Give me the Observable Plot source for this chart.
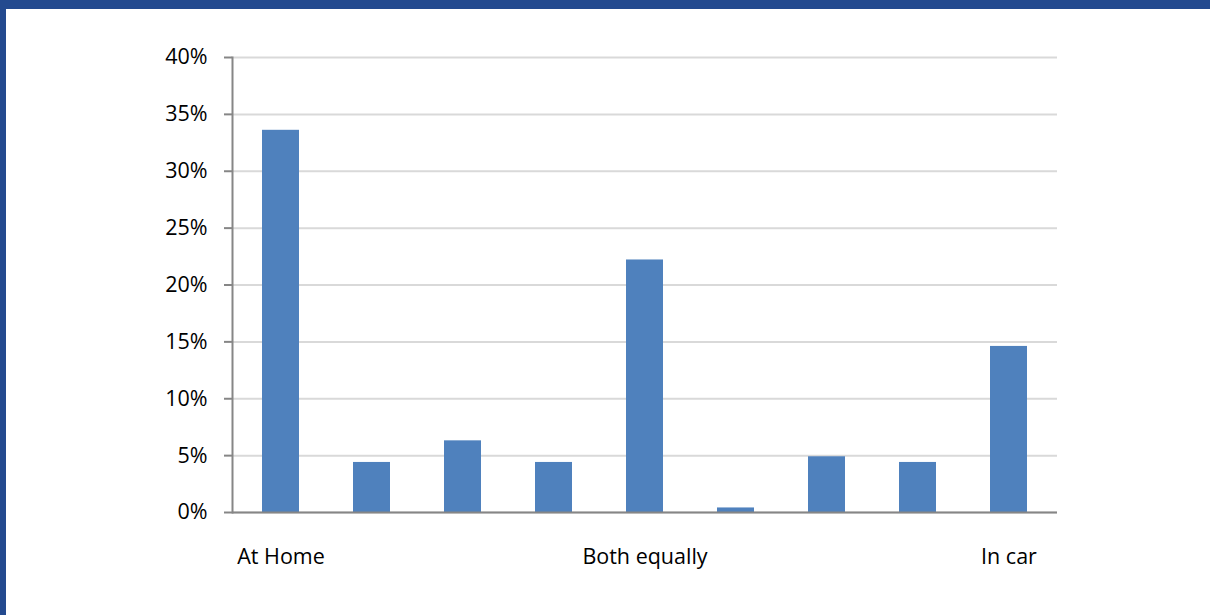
<!DOCTYPE html>
<html>
<head>
<meta charset="utf-8">
<script src="https://cdn.jsdelivr.net/npm/d3@7"></script>
<script src="https://cdn.jsdelivr.net/npm/@observablehq/plot@0.6"></script>
<style>
  html, body { margin: 0; padding: 0; background: #fff; }
  #frame {
    box-sizing: border-box;
    width: 1210px; height: 615px;
    border-top: 9px solid #234A8F;
    border-left: 6px solid #234A8F;
    overflow: hidden;
  }
</style>
</head>
<body>
<div id="frame"></div>
<script>
// Data
const positions = [1, 2, 3, 4, 5, 6, 7, 8, 9];
const values = [33.6, 4.4, 6.3, 4.4, 22.2, 0.4, 4.9, 4.4, 14.6];
const xLabels = ["At Home", "", "", "", "Both equally", "", "", "", "In car"];
const yTicks = [0, 5, 10, 15, 20, 25, 30, 35, 40];

const data = positions.map((p, i) => ({pos: p, value: values[i] / 100}));

const chart = Plot.plot({
  width: 1204,
  height: 606,
  marginLeft: 226,
  marginRight: 153,
  marginTop: 48,
  marginBottom: 103,
  style: {fontFamily: "'Open Sans', sans-serif", fontSize: "21.5px", color: "#000", background: "#fff"},
  x: {domain: positions, paddingInner: 0.59, paddingOuter: 0.295, align: 0.5},
  y: {domain: [0, 0.40]},
  marks: [
    Plot.gridY(yTicks.map(t => t / 100), {stroke: "#d9d9d9", strokeOpacity: 1, strokeWidth: 2}),
    Plot.barY(data, {x: "pos", y: "value", fill: "#4F81BD"}),
    Plot.ruleY([0], {stroke: "#868686", strokeWidth: 2}),
    Plot.frame({anchor: "left", stroke: "#868686", strokeWidth: 2}),
    Plot.axisY(yTicks.map(t => t / 100), {
      tickSize: 8, tickPadding: 17, stroke: "#868686", strokeWidth: 2, strokeOpacity: 1,
      tickFormat: d => Math.round(d * 100) + "%", label: null, fill: "#000"
    }),
    Plot.axisX(positions, {
      tickSize: 0, tickPadding: 36, tickFormat: (d) => xLabels[positions.indexOf(d)],
      label: null, fill: "#000"
    })
  ]
});
document.getElementById("frame").appendChild(chart);
</script>
</body>
</html>
